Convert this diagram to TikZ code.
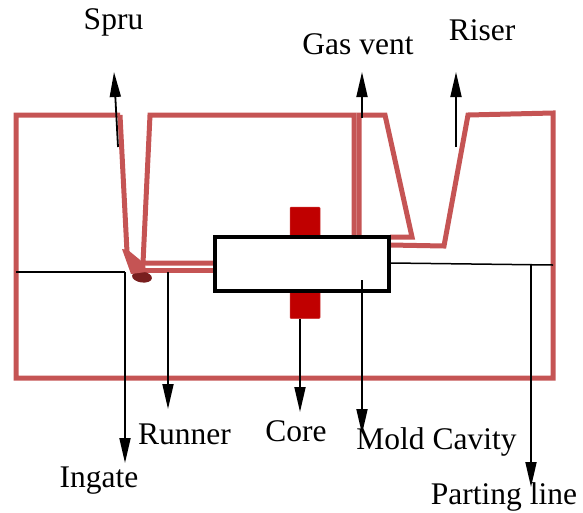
\documentclass[tikz,border=0pt]{standalone}
\usepackage{fontspec}
\setmainfont{Liberation Serif}
\usetikzlibrary{arrows.meta}
\definecolor{moldred}{RGB}{197,84,84}
\definecolor{coreredd}{RGB}{192,0,0}
\definecolor{gatedark}{RGB}{120,30,30}

\begin{document}
\begin{tikzpicture}[x=1pt,y=-1pt]
                \tikzstyle{mold}=[draw=moldred,line width=5pt,line join=miter]
                \tikzstyle{core}=[fill=coreredd,draw=coreredd!80!white,line width=.5pt,rounded corners=1pt]
                \tikzstyle{thinline}=[black,line width=1.5pt]
                \tikzstyle{pointer}=[black,line width=1.8pt,-{Triangle[length=25pt,width=11pt]}]
                \tikzstyle{lbl}=[inner sep=0pt,font=\fontsize{31.5}{36}\selectfont]

                \useasboundingbox (0,0) rectangle (583,512);

                % mold outline
                \draw[mold] (120,115) -- (16,115) -- (16,378) -- (553,378) -- (553,113) -- (468,115) -- (444,246) -- (390,245);
                \draw[mold] (120,115) -- (127,252);
                \draw[mold] (215,263) -- (143,263) -- (150,115) -- (354,115) -- (354,237);
                \draw[mold] (143,270) -- (215,270);
                \draw[mold] (359,237) -- (359,115) -- (385,115) -- (412,237) -- (390,237);

                % ingate
                \fill[gatedark,rotate around={-8:(142,277)}] (142,277) ellipse (10pt and 5.5pt);
                \fill[moldred] (122,249) -- (128,250) -- (145,264) -- (146,272) -- (131,274) -- cycle;

                % core prints
                \node[core,minimum width=30pt,minimum height=30pt,inner sep=0pt] (coretop) at (305,222) {};
                \node[core,minimum width=30pt,minimum height=29pt,inner sep=0pt] (corebot) at (305,304) {};

                % cavity
                \node[draw=black,fill=white,line width=4pt,minimum width=174pt,minimum height=54pt,inner sep=0pt] (cavity) at (302,264) {};

                % labels
                \node[lbl] (spru) at (113.5,22) {Spru};
                \node[lbl] (gasvent) at (358,44) {Gas vent};
                \node[lbl] (riser) at (482,30) {Riser};
                \node[lbl] (runner) at (184.5,434) {Runner};
                \node[lbl] (corelbl) at (296,431) {Core};
                \node[lbl] (moldcavity) at (436.5,442) {Mold Cavity};
                \node[lbl] (ingate) at (99,481) {Ingate};
                \node[lbl] (parting) at (504,497) {Parting line};

                % free ends of the pointers
                \coordinate (leftedge) at (16,272);
                \coordinate (rightedge) at (553,265);
                \coordinate (sprustart) at (118,147);
                \coordinate (sprutip) at (114,72);
                \coordinate (ventstart) at (362,118);
                \coordinate (venttip) at (362,72);
                \coordinate (riserstart) at (456,147);
                \coordinate (risertip) at (456,72);
                \coordinate (gatestart) at (125,272);
                \coordinate (gatetip) at (125,463);
                \coordinate (runstart) at (168,272);
                \coordinate (runtip) at (168,409);
                \coordinate (coretip) at (300,412);
                \coordinate (cavstart) at (362,280);
                \coordinate (cavtip) at (362,434);
                \coordinate (partstart) at (531,265);
                \coordinate (parttip) at (531,487);

                \draw[thinline] (leftedge) -- (gatestart);
                \draw[thinline] (cavity.east |- 0,263) -- (rightedge);

                \draw[pointer] (sprustart) -- (sprutip);
                \draw[pointer] (ventstart) -- (venttip);
                \draw[pointer] (riserstart) -- (risertip);
                \draw[pointer] (gatestart) -- (gatetip);
                \draw[pointer] (runstart) -- (runtip);
                \draw[pointer] (corebot.south -| coretip) -- (coretip);
                \draw[pointer] (cavstart) -- (cavtip);
                \draw[pointer] (partstart) -- (parttip);
            \end{tikzpicture}
\end{document}
